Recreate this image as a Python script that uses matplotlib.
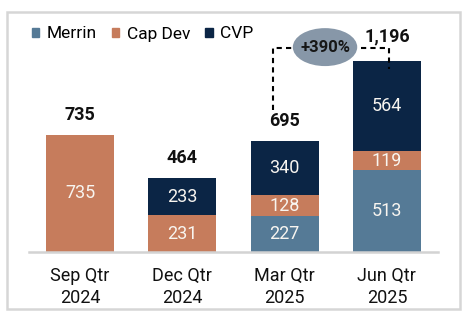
import numpy as np
import matplotlib
matplotlib.use("Agg")
import matplotlib.pyplot as plt
from matplotlib.patches import Patch, Ellipse, Rectangle

plt.rcParams['font.family'] = ['Roboto', 'DejaVu Sans']

# data
quarters = ['Sep Qtr\n2024', 'Dec Qtr\n2024', 'Mar Qtr\n2025', 'Jun Qtr\n2025']
merrin = [0, 0, 227, 513]
cap_dev = [735, 231, 128, 119]
cvp = [0, 233, 340, 564]
totals = [735, 464, 695, 1196]
growth_label = '+390%'

c_merrin = '#557a96'
c_capdev = '#c67c5c'
c_cvp = '#0b2545'
c_oval = '#8797a8'

fig = plt.figure(figsize=(4.68, 3.21), dpi=100)
ax = fig.add_axes([29/468, 69/321, 409/468, 232/321])

x = np.arange(len(quarters))
w = 0.665
merrin = np.array(merrin)
cap_dev = np.array(cap_dev)
cvp = np.array(cvp)

ax.bar(x, merrin, w, color=c_merrin)
ax.bar(x, cap_dev, w, bottom=merrin, color=c_capdev)
ax.bar(x, cvp, w, bottom=merrin + cap_dev, color=c_cvp)

# segment labels (white, centred in each segment)
for i in range(len(x)):
    base = 0
    for vals in (merrin, cap_dev, cvp):
        v = vals[i]
        if v > 0:
            ax.text(x[i], base + v/2, f'{v:,}', ha='center', va='center',
                    color='#f8f5f0', fontsize=13)
        base += v

# totals above bars
for i, t in enumerate(totals):
    off = 157 if i == 3 else 125
    ax.text(x[i], t + off, f'{t:,}', ha='center', va='center',
            fontsize=13, fontweight='bold', color='#111111')

# dashed growth connector between Mar and Jun quarters
y_top = 1280
ax.plot([x[2] - 0.115, x[2] - 0.115, x[3] + 0.02, x[3] + 0.02],
        [totals[2] + 195, y_top, y_top, totals[3] - 50],
        color='black', lw=1.5, ls=(0, (2.5, 2)), solid_capstyle='butt')
ell = Ellipse((2.395, 1285), 0.63, 238, facecolor=c_oval, edgecolor='none', zorder=3)
ax.add_patch(ell)
ax.text(2.395, 1285, growth_label, ha='center', va='center', fontsize=12,
        fontweight='bold', color='#161616', zorder=4)

ax.set_xlim(-0.5, 3.5)
ax.set_ylim(0, 1455)
ax.set_xticks(x)
ax.set_xticklabels(quarters, fontsize=13, color='#111111', linespacing=1.3)
ax.tick_params(axis='x', length=0, pad=11)
ax.set_yticks([])
for s in ('left', 'right', 'top'):
    ax.spines[s].set_visible(False)
ax.spines['bottom'].set_color('#d3d3d3')
ax.spines['bottom'].set_linewidth(1.8)
ax.patch.set_alpha(0)

handles = [Patch(color=c_merrin, label='Merrin'),
           Patch(color=c_capdev, label='Cap Dev'),
           Patch(color=c_cvp, label='CVP')]
fig.legend(handles=handles, loc='center left', bbox_to_anchor=(32/468, 1 - 34/321),
           ncol=3, frameon=False, fontsize=12.5, handlelength=0.42, handleheight=0.42,
           handletextpad=0.45, columnspacing=0.85, borderpad=0, borderaxespad=0)

# outer light grey frame
fig.patches.append(Rectangle((7/468, 12/321), 453/468, 297/321, transform=fig.transFigure,
                             fill=False, edgecolor='#d6d6d6', lw=1.8))

fig.savefig('out.png', dpi=100)
